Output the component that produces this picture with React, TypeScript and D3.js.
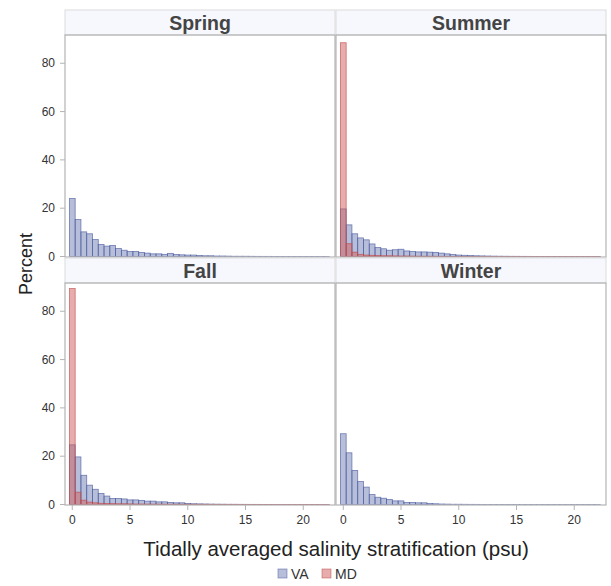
import React from "react";
import * as d3 from "d3";

const binWidth = 0.5;
const seasons = ["Spring", "Summer", "Fall", "Winter"];
const groups = ["VA", "MD"];
const xTicks = [0, 5, 10, 15, 20];
const yTicks = [0, 20, 40, 60, 80];

const springVA = [24.0, 15.3, 10.2, 9.4, 7.0, 5.0, 4.3, 4.6, 3.3, 2.6, 2.1, 2.1, 1.7, 1.4, 1.1, 1.1, 0.9, 1.3, 0.8, 0.7, 0.6, 0.6, 0.4, 0.3, 0.3, 0.2, 0.2, 0.15, 0.1, 0.1, 0.1, 0.08, 0.06, 0.05, 0.05, 0.04, 0.04, 0.03, 0.03, 0.03, 0.02, 0.02, 0.02, 0.01, 0.01];
const springMD: number[] = [];
const summerVA = [19.7, 13.1, 9.4, 7.7, 6.9, 5.2, 3.7, 3.2, 2.6, 2.8, 3.0, 2.3, 2.1, 1.9, 1.9, 1.8, 1.7, 1.4, 1.1, 0.8, 0.6, 0.5, 0.4, 0.3, 0.25, 0.2, 0.15, 0.12, 0.1, 0.08, 0.07, 0.06, 0.05, 0.04, 0.04, 0.03, 0.03, 0.02, 0.02, 0.02, 0.01, 0.01, 0.01, 0.01, 0.01];
const summerMD = [88.5, 5.3, 1.8, 0.9, 0.6, 0.5, 0.4, 0.3, 0.3, 0.25, 0.2, 0.2, 0.15, 0.12, 0.1, 0.1, 0.08, 0.07, 0.06, 0.05, 0.05, 0.04, 0.04, 0.03, 0.03, 0.03, 0.02, 0.02, 0.02, 0.02, 0.02, 0.01, 0.01, 0.01, 0.01, 0.01, 0.01, 0.01, 0.01, 0.01, 0.01, 0.01, 0.01, 0.01, 0.01];
const fallVA = [24.7, 19.7, 12.1, 8.0, 6.3, 4.6, 3.5, 2.5, 2.5, 2.3, 1.9, 1.9, 1.7, 1.4, 1.4, 1.1, 1.1, 0.8, 0.7, 0.7, 0.4, 0.3, 0.25, 0.2, 0.15, 0.12, 0.1, 0.08, 0.07, 0.06, 0.05, 0.04, 0.04, 0.03, 0.03, 0.02, 0.02, 0.02, 0.01, 0.01, 0.01, 0.01, 0.01, 0.01, 0.01];
const fallMD = [89.4, 5.1, 1.8, 1.0, 0.7, 0.5, 0.4, 0.35, 0.3, 0.3, 0.25, 0.2, 0.2, 0.18, 0.15, 0.15, 0.12, 0.12, 0.1, 0.1, 0.1, 0.08, 0.08, 0.08, 0.07, 0.07, 0.06, 0.06, 0.06, 0.05, 0.05, 0.05, 0.05, 0.04, 0.04, 0.04, 0.04, 0.04, 0.03, 0.03, 0.03, 0.03, 0.03, 0.03, 0.02];
const winterVA = [29.3, 21.4, 14.1, 9.5, 7.2, 4.1, 3.0, 2.6, 2.1, 1.5, 1.5, 0.8, 0.8, 0.7, 0.7, 0.4, 0.3, 0.2, 0.15, 0.1, 0.1, 0.08, 0.06, 0.05, 0.04, 0.03, 0.03, 0.02, 0.02, 0.02, 0.01, 0.01, 0.01, 0.01, 0.01, 0.01, 0.01, 0.01, 0.01, 0.01, 0.01, 0.01, 0.01, 0.01, 0.01];
const winterMD: number[] = [];

const seriesBySeason: Record<string, number[][]> = {
  Spring: [springVA, springMD],
  Summer: [summerVA, summerMD],
  Fall: [fallVA, fallMD],
  Winter: [winterVA, winterMD],
};

const fills = ["#6F7EB3", "#D05B5B"];
const strokes = ["#4a5a9e", "#bf4a4a"];

const W = 611;
const H = 586;
const colLeft = [65, 336];
const panelW = 270;
const rowTop = [10, 258];
const stripH = 25;
const plotH = 222;
const font = "'Liberation Sans', Arial, sans-serif";

export default function App() {
  const x = d3.scaleLinear().domain([-0.63, 22.75]).range([0, panelW]);
  const y = d3.scaleLinear().domain([0, 91.7]).range([plotH - 0.5, 0]);

  return (
    <svg width={W} height={H} style={{ display: "block", position: "absolute", left: 0, top: 0 }} fontFamily={font}>
      <rect width={W} height={H} fill="#fff" />
      {seasons.map((s, i) => {
        const col = i % 2;
        const row = Math.floor(i / 2);
        const px = colLeft[col];
        const py = rowTop[row] + stripH;
        const data = seriesBySeason[s];
        return (
          <g key={s}>
            <rect x={px} y={rowTop[row]} width={panelW} height={stripH} fill="#f6f8fe" stroke="#dcdcdc" />
            <text x={px + panelW / 2} y={rowTop[row] + 19.5} textAnchor="middle" fontSize={19.5} fontWeight="bold" fill="#444">{s}</text>
            <g transform={`translate(${px},${py})`}>
              <clipPath id={`clip${i}`}><rect x={0} y={0} width={panelW} height={plotH} /></clipPath>
              <g clipPath={`url(#clip${i})`}>
                {data.map((vals, g) =>
                  vals.map((v, k) => {
                    const c = k * binWidth;
                    const x0 = x(c - binWidth / 2);
                    const x1 = x(c + binWidth / 2);
                    return (
                      <rect key={`${g}-${k}`} x={x0} y={y(v)} width={x1 - x0} height={Math.max(0, y(0) - y(v))}
                        fill={fills[g]} fillOpacity={0.5} stroke={strokes[g]} strokeOpacity={0.75} strokeWidth={0.8} />
                    );
                  })
                )}
              </g>
              <rect x={0} y={0} width={panelW} height={plotH} fill="none" stroke="#b4b4b4" strokeWidth={1.2} />
              {col === 0 && yTicks.map((t) => (
                <g key={t} transform={`translate(0,${y(t)})`}>
                  <line x1={-5} x2={0} stroke="#b4b4b4" />
                  <text x={-10} dy="0.35em" textAnchor="end" fontSize={12} fill="#333">{t}</text>
                </g>
              ))}
              {row === 1 && xTicks.map((t) => (
                <g key={t} transform={`translate(${x(t)},${plotH})`}>
                  <line y1={0} y2={5} stroke="#b4b4b4" />
                  <text y={19} textAnchor="middle" fontSize={12} fill="#333">{t}</text>
                </g>
              ))}
            </g>
          </g>
        );
      })}
      <text transform={`translate(32,${264}) rotate(-90)`} textAnchor="middle" fontSize={18} fill="#222">Percent</text>
      <text x={336} y={556} textAnchor="middle" fontSize={20.5} fill="#222">Tidally averaged salinity stratification (psu)</text>
      {groups.map((g, i) => {
        const lx = i === 0 ? 278 : 322;
        return (
          <g key={g}>
            <rect x={lx} y={569} width={9} height={9} fill={fills[i]} fillOpacity={0.5} stroke={strokes[i]} strokeOpacity={0.6} strokeWidth={0.8} />
            <text x={lx + 13} y={579} fontSize={14} fill="#333">{g}</text>
          </g>
        );
      })}
    </svg>
  );
}
